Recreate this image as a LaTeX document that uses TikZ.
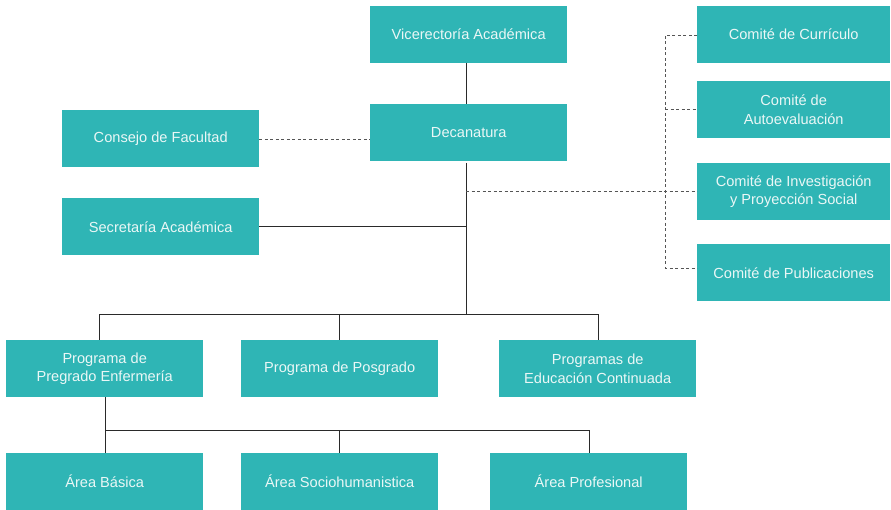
\documentclass[tikz,border=0pt]{standalone}
\usepackage{fontspec}
\setmainfont{Liberation Sans}
\definecolor{teal}{HTML}{2FB5B5}
\definecolor{txt}{HTML}{EAF7F6}
\definecolor{ln}{HTML}{2A2A2A}
\definecolor{dl}{HTML}{555555}
\begin{document}
\begin{tikzpicture}[x=1pt,y=-1pt,
  box/.style={fill=teal,text=txt,minimum width=197pt,minimum height=57pt,inner sep=0pt,align=center,anchor=north west,font=\fontsize{14.6}{18.5}\selectfont},
  cbox/.style={box,minimum width=193pt},
  solidln/.style={draw=ln,line width=0.9pt},
  dashln/.style={draw=dl,line width=0.9pt,dash pattern=on 3pt off 2.5pt}]
\useasboundingbox (0,0) rectangle (891,510);
\node[box] (vice) at (370,6) {Vicerectoría Académica};
\node[box] (dec) at (370,104) {Decanatura};
\node[box] (cons) at (62,110) {Consejo de Facultad};
\node[box] (sec) at (62,198) {Secretaría Académica};
\node[cbox] (c1) at (697,6) {Comité de Currículo};
\node[cbox] (c2) at (697,81) {Comité de\\Autoevaluación};
\node[cbox] (c3) at (697,163) {Comité de Investigación\\y Proyección Social};
\node[cbox] (c4) at (697,244) {Comité de Publicaciones};
\node[box] (pre) at (6,340) {Programa de\\Pregrado Enfermería};
\node[box] (pos) at (241,340) {Programa de Posgrado};
\node[box] (edu) at (499,340) {Programas de\\Educación Continuada};
\node[box] (ab) at (6,453) {Área Básica};
\node[box] (as) at (241,453) {Área Sociohumanistica};
\node[box] (ap) at (490,453) {Área Profesional};
% coordinates
\coordinate (d1) at (466,191);
\coordinate (d2) at (466,226);
\coordinate (d3) at (466,314);
\coordinate (bx) at (665,191);
\coordinate (p1) at (105,430);
% solid
\draw[solidln] (466,63) -- (466,104);
\draw[solidln] (466,163) -- (d3);
\draw[solidln] (cons.east|-d2) -- (d2);
\draw[solidln] (99,340) -- (99,314) -- (598,314) -- (598,340);
\draw[solidln] (339,314) -- (339,340);
\draw[solidln] (105,397) -- (105,453);
\draw[solidln] (p1) -- (589,430) -- (589,453);
\draw[solidln] (339,430) -- (339,453);
% dashed
\draw[dashln] (cons.east|-0,139) -- (dec.west|-0,139);
\draw[dashln] (d1) -- (c3.west|-d1);
\draw[dashln] (c1.west|-0,35) -- (665,35) -- (665,268) -- (c4.west|-0,268);
\draw[dashln] (665,109) -- (c2.west|-0,109);
\end{tikzpicture}
\end{document}
